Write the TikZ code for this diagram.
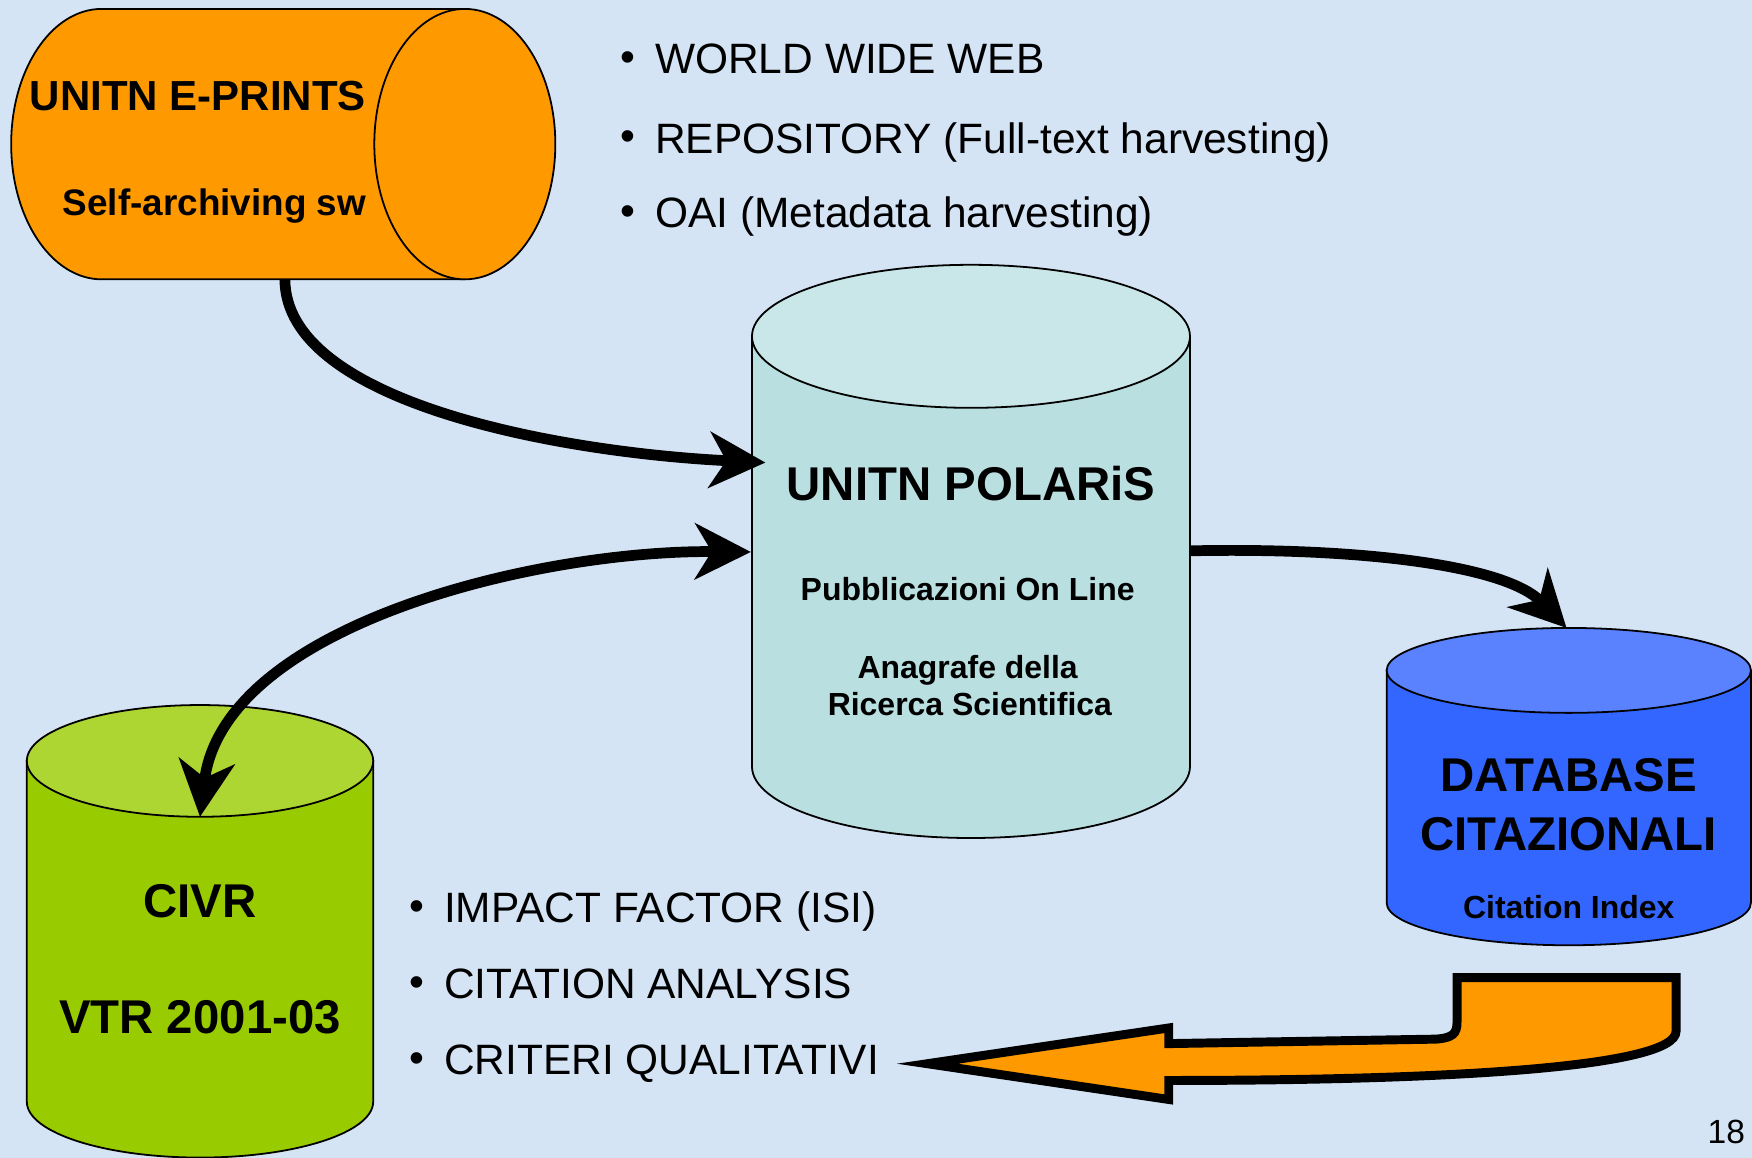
\documentclass[tikz,border=0pt]{standalone}
\usepackage{fontspec}
\setmainfont{Liberation Sans}
\usetikzlibrary{arrows.meta}
\definecolor{bgblue}{RGB}{212,228,245}
\definecolor{cylorange}{RGB}{255,153,0}
\definecolor{poltop}{RGB}{201,231,232}
\definecolor{polbody}{RGB}{185,223,224}
\definecolor{civrbody}{RGB}{153,204,0}
\definecolor{civrtop}{RGB}{173,214,51}
\definecolor{dbbody}{RGB}{51,102,255}
\definecolor{dbtop}{RGB}{90,130,255}
\begin{document}
\begin{tikzpicture}[x=0.5pt,y=-0.5pt,
  cyl/.style={draw=black,line width=0.8pt},
  conn/.style={line width=4.8pt,draw=black},
  tipA/.tip={Stealth[length=25pt,width=25pt,inset=7.5pt]},
  bigb/.style={font=\fontsize{21.2pt}{25pt}\selectfont\bfseries,inner sep=0pt},
  eprb/.style={font=\fontsize{18.8pt}{22pt}\selectfont\bfseries,inner sep=0pt},
  selfb/.style={font=\fontsize{16.5pt}{20pt}\selectfont\bfseries,inner sep=0pt},
  smallb/.style={font=\fontsize{14.3pt}{17pt}\selectfont\bfseries,inner sep=0pt},
  bultxt/.style={font=\fontsize{19pt}{22pt}\selectfont,inner sep=0pt,anchor=base west},
  bulmark/.style={font=\fontsize{19pt}{22pt}\selectfont,inner sep=0pt,anchor=base},
  blockarrow/.style={draw=black,fill=cylorange,line width=4pt,miter limit=10}
]
\fill[bgblue] (0,0) rectangle (1568,1036);
\useasboundingbox (0,0) rectangle (1568,1036);

% ---------- UNITN E-PRINTS (horizontal cylinder) ----------
\path[cyl,fill=cylorange] (416,8) -- (91,8) arc[start angle=270,end angle=90,x radius=81,y radius=121] -- (416,250) -- cycle;
\path[cyl,fill=cylorange] (416,129) ellipse[x radius=81,y radius=121];
\node[eprb,anchor=base] (eprTitle) at (177,98.5) {UNITN E-PRINTS};
\node[selfb,anchor=base] (eprSub) at (192,193) {Self-archiving sw};
\coordinate (eprB) at (255,250);

% ---------- UNITN POLARiS ----------
\path[cyl,fill=polbody] (673,301) -- (673,686) arc[start angle=180,end angle=0,x radius=196,y radius=64] -- (1065,301) -- cycle;
\path[cyl,fill=poltop] (869,301) ellipse[x radius=196,y radius=64];
\node[bigb,anchor=base] (polTitle) at (869,448) {UNITN POLARiS};
\node[smallb,anchor=base] (polSub1) at (866,537) {Pubblicazioni On Line};
\node[smallb,anchor=base] (polSub2) at (866,607) {Anagrafe della};
\node[smallb,anchor=base] (polSub3) at (868,640) {Ricerca Scientifica};
\coordinate (polL1) at (685,414);
\coordinate (polL2) at (672,494);
\coordinate (polR) at (1065,493);

% ---------- DATABASE CITAZIONALI ----------
\path[cyl,fill=dbbody] (1241,600) -- (1241,808) arc[start angle=180,end angle=0,x radius=163,y radius=38] -- (1567,600) -- cycle;
\path[cyl,fill=dbtop] (1404,600) ellipse[x radius=163,y radius=38];
\node[bigb,anchor=base] (dbT1) at (1404,708) {DATABASE};
\node[bigb,anchor=base] (dbT2) at (1404,761) {CITAZIONALI};
\node[smallb,anchor=base] (dbSub) at (1404,822) {Citation Index};
\coordinate (dbTop) at (1402,562);

% ---------- CIVR ----------
\path[cyl,fill=civrbody] (24,681) -- (24,986) arc[start angle=180,end angle=0,x radius=155,y radius=50] -- (334,681) -- cycle;
\path[cyl,fill=civrtop] (179,681) ellipse[x radius=155,y radius=50];
\node[bigb,anchor=base] (civrT1) at (179,821) {CIVR};
\node[bigb,anchor=base] (civrT2) at (179,925) {VTR 2001-03};
\coordinate (civrTop) at (179,731);

% ---------- connectors ----------
\draw[conn,-tipA] (eprB) .. controls (255,360) and (500,405) .. (polL1);
\draw[conn,tipA-tipA] (civrTop) .. controls (200,560) and (480,492) .. (polL2);
\draw[conn,-tipA] (polR) .. controls (1200,490) and (1345,503) .. (dbTop);

% ---------- top bullet list ----------
\node[bulmark] (b1) at (562,64) {•};
\node[bultxt] (t1) at (586,66) {WORLD WIDE WEB};
\node[bulmark] (b2) at (562,135) {•};
\node[bultxt] (t2) at (586,137) {REPOSITORY (Full-text harvesting)};
\node[bulmark] (b3) at (562,202) {•};
\node[bultxt] (t3) at (586,204) {OAI (Metadata harvesting)};

% ---------- bottom bullet list ----------
\node[bulmark] (b4) at (373,824) {•};
\node[bultxt] (t4) at (397,826) {IMPACT FACTOR (ISI)};
\node[bulmark] (b5) at (373,892) {•};
\node[bultxt] (t5) at (397,894) {CITATION ANALYSIS};
\node[bulmark] (b6) at (373,960) {•};
\node[bultxt] (t6) at (397,962) {CRITERI QUALITATIVI};

% ---------- orange U-turn block arrow ----------
\path[blockarrow] (830,952) -- (1046,920) -- (1046,934) -- (1285,930)
  .. controls (1300,929) and (1304,925) .. (1304,915) -- (1304,875) -- (1500,875) -- (1500,923)
  .. controls (1500,955) and (1300,967) .. (1046,967) -- (1046,984) -- cycle;

% ---------- page number ----------
\node[font=\fontsize{15pt}{18pt}\selectfont,inner sep=0pt,anchor=base] (pg) at (1545,1023) {18};
\end{tikzpicture}
\end{document}
